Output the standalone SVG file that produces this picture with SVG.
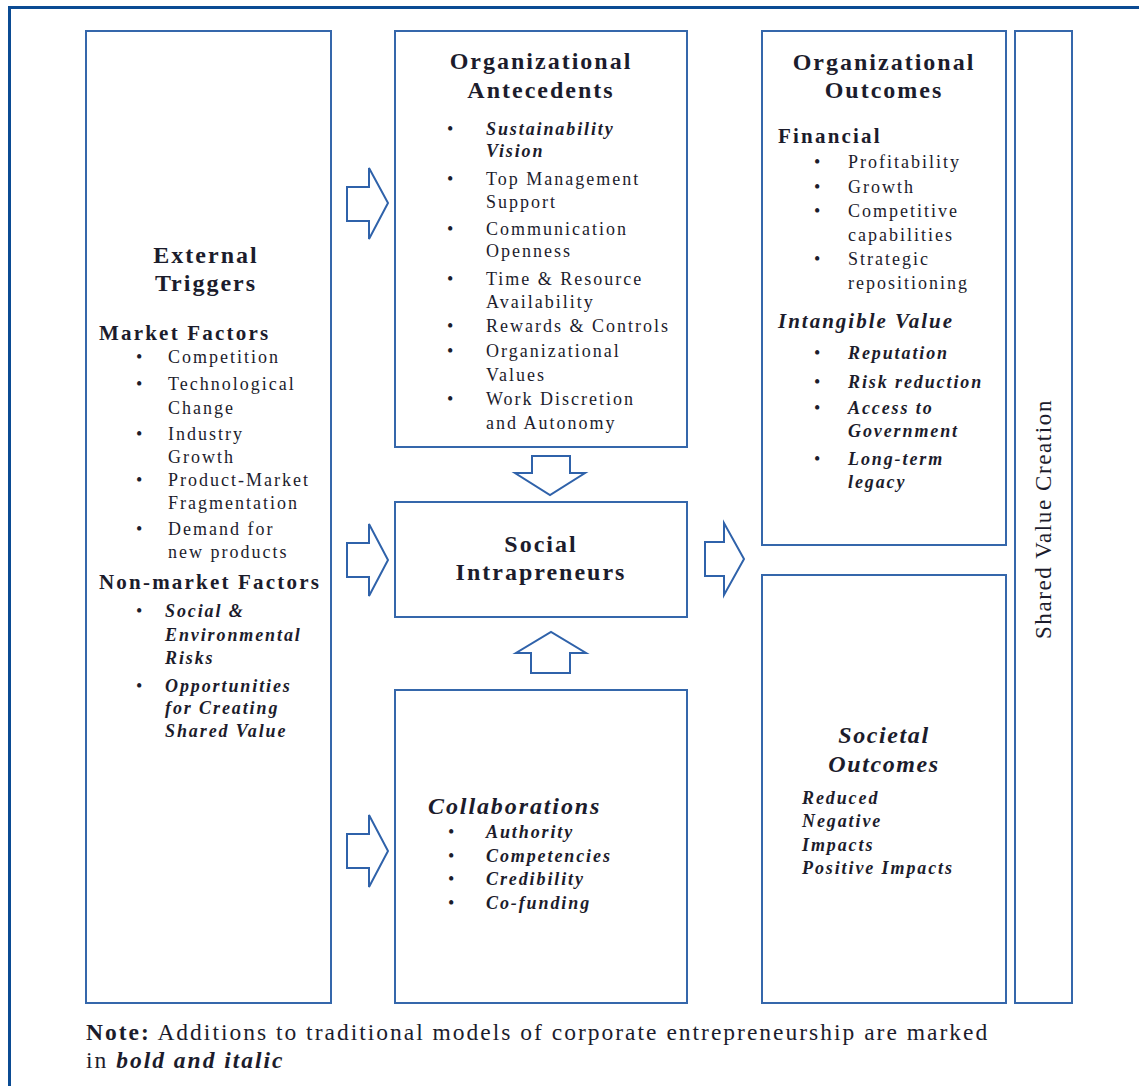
<svg xmlns="http://www.w3.org/2000/svg" width="1139" height="1086" viewBox="0 0 1139 1086">
<style>
.box{fill:#fff;stroke:#3567ab;stroke-width:2}
.arr{fill:#fff;stroke:#2f62aa;stroke-width:2;stroke-linejoin:miter}
text{font-family:"Liberation Serif","Times New Roman",serif;fill:#1c1c2c}
.t{font-size:24px;font-weight:bold;letter-spacing:2px;text-anchor:middle}
.h{font-size:21px;font-weight:bold;letter-spacing:2.2px}
.b{font-size:18px;letter-spacing:2px}
.bi{font-size:18px;font-weight:bold;font-style:italic;letter-spacing:1.9px}
.d{font-size:18px}
</style>
<rect x="9.5" y="7.5" width="1140" height="1090" fill="none" stroke="#0b4b93" stroke-width="3"/>

<g id="external-triggers">
<rect class="box" x="86" y="31" width="245" height="972"/>
<text class="t" x="206" y="263">External</text>
<text class="t" x="206" y="291">Triggers</text>
<text class="h" x="99" y="340">Market Factors</text>
<text class="d" x="136" y="363">•</text><text class="b" x="168" y="363">Competition</text>
<text class="d" x="136" y="390">•</text><text class="b" x="168" y="390">Technological</text>
<text class="b" x="168" y="414">Change</text>
<text class="d" x="136" y="440">•</text><text class="b" x="168" y="440">Industry</text>
<text class="b" x="168" y="463">Growth</text>
<text class="d" x="136" y="486">•</text><text class="b" x="168" y="486">Product-Market</text>
<text class="b" x="168" y="509">Fragmentation</text>
<text class="d" x="136" y="535">•</text><text class="b" x="168" y="535">Demand for</text>
<text class="b" x="168" y="558">new products</text>
<text class="h" x="99" y="589">Non-market Factors</text>
<text class="d" x="136" y="617">•</text><text class="bi" x="165" y="617">Social &amp;</text>
<text class="bi" x="165" y="641">Environmental</text>
<text class="bi" x="165" y="664">Risks</text>
<text class="d" x="136" y="692">•</text><text class="bi" x="165" y="692">Opportunities</text>
<text class="bi" x="165" y="714">for Creating</text>
<text class="bi" x="165" y="737">Shared Value</text>
</g>

<g id="organizational-antecedents">
<rect class="box" x="395" y="31" width="292" height="416"/>
<text class="t" x="541" y="69">Organizational</text>
<text class="t" x="541" y="98">Antecedents</text>
<text class="d" x="447" y="135">•</text><text class="bi" x="486" y="135">Sustainability</text>
<text class="bi" x="486" y="157">Vision</text>
<text class="d" x="447" y="185">•</text><text class="b" x="486" y="185">Top Management</text>
<text class="b" x="486" y="208">Support</text>
<text class="d" x="447" y="235">•</text><text class="b" x="486" y="235">Communication</text>
<text class="b" x="486" y="257">Openness</text>
<text class="d" x="447" y="285">•</text><text class="b" x="486" y="285">Time &amp; Resource</text>
<text class="b" x="486" y="308">Availability</text>
<text class="d" x="447" y="332">•</text><text class="b" x="486" y="332">Rewards &amp; Controls</text>
<text class="d" x="447" y="357">•</text><text class="b" x="486" y="357">Organizational</text>
<text class="b" x="486" y="381">Values</text>
<text class="d" x="447" y="405">•</text><text class="b" x="486" y="405">Work Discretion</text>
<text class="b" x="486" y="429">and Autonomy</text>
</g>

<g id="social-intrapreneurs">
<rect class="box" x="395" y="502" width="292" height="115"/>
<text class="t" x="541" y="552">Social</text>
<text class="t" x="541" y="580">Intrapreneurs</text>
</g>

<g id="collaborations">
<rect class="box" x="395" y="690" width="292" height="313"/>
<text x="428" y="814" style="font-size:24px;font-weight:bold;font-style:italic;letter-spacing:1.9px">Collaborations</text>
<text class="d" x="448" y="838">•</text><text class="bi" x="486" y="838">Authority</text>
<text class="d" x="448" y="862">•</text><text class="bi" x="486" y="862">Competencies</text>
<text class="d" x="448" y="885">•</text><text class="bi" x="486" y="885">Credibility</text>
<text class="d" x="448" y="909">•</text><text class="bi" x="486" y="909">Co-funding</text>
</g>

<g id="organizational-outcomes">
<rect class="box" x="762" y="31" width="244" height="514"/>
<text class="t" x="884" y="70">Organizational</text>
<text class="t" x="884" y="98">Outcomes</text>
<text class="h" x="778" y="143">Financial</text>
<text class="d" x="814" y="168">•</text><text class="b" x="848" y="168">Profitability</text>
<text class="d" x="814" y="193">•</text><text class="b" x="848" y="193">Growth</text>
<text class="d" x="814" y="217">•</text><text class="b" x="848" y="217">Competitive</text>
<text class="b" x="848" y="241">capabilities</text>
<text class="d" x="814" y="265">•</text><text class="b" x="848" y="265">Strategic</text>
<text class="b" x="848" y="289">repositioning</text>
<text x="778" y="328" style="font-size:21px;font-weight:bold;font-style:italic;letter-spacing:2px">Intangible Value</text>
<text class="d" x="814" y="359">•</text><text class="bi" x="848" y="359">Reputation</text>
<text class="d" x="814" y="388">•</text><text class="bi" x="848" y="388">Risk reduction</text>
<text class="d" x="814" y="414">•</text><text class="bi" x="848" y="414">Access to</text>
<text class="bi" x="848" y="437">Government</text>
<text class="d" x="814" y="465">•</text><text class="bi" x="848" y="465">Long-term</text>
<text class="bi" x="848" y="488">legacy</text>
</g>

<g id="societal-outcomes">
<rect class="box" x="762" y="575" width="244" height="428"/>
<text x="884" y="743" style="font-size:24px;font-weight:bold;font-style:italic;letter-spacing:1.6px;text-anchor:middle">Societal</text>
<text x="884" y="772" style="font-size:24px;font-weight:bold;font-style:italic;letter-spacing:1.6px;text-anchor:middle">Outcomes</text>
<text class="bi" x="802" y="804">Reduced</text>
<text class="bi" x="802" y="827">Negative</text>
<text class="bi" x="802" y="851">Impacts</text>
<text class="bi" x="802" y="874">Positive Impacts</text>
</g>

<g id="shared-value-creation">
<rect class="box" x="1015" y="31" width="57" height="972"/>
<text transform="translate(1051 519) rotate(-90)" style="font-size:23px;letter-spacing:1.6px;text-anchor:middle">Shared Value Creation</text>
</g>

<g id="connectors">
<polygon class="arr" points="347,187 369,187 369,168 388,203 369,239 369,221 347,221"/>
<polygon class="arr" points="347,543 369,543 369,524 388,560 369,596 369,577 347,577"/>
<polygon class="arr" points="347,834 369,834 369,815 388,851 369,887 369,868 347,868"/>
<polygon class="arr" points="705,542 724,542 724,523 744,559 724,595 724,576 705,576"/>
<polygon class="arr" points="532,456 570,456 570,473 585,473 550,495 515,473 532,473"/>
<polygon class="arr" points="531,673 570,673 570,653 586,653 551,632 516,653 531,653"/>
</g>

<g id="note">
<text x="86" y="1040" style="font-size:23.5px;letter-spacing:2px"><tspan font-weight="bold">Note:</tspan> Additions to traditional models of corporate entrepreneurship are marked</text>
<text x="86" y="1068" style="font-size:23.5px;letter-spacing:2px">in <tspan font-weight="bold" font-style="italic">bold and italic</tspan></text>
</g>
</svg>
